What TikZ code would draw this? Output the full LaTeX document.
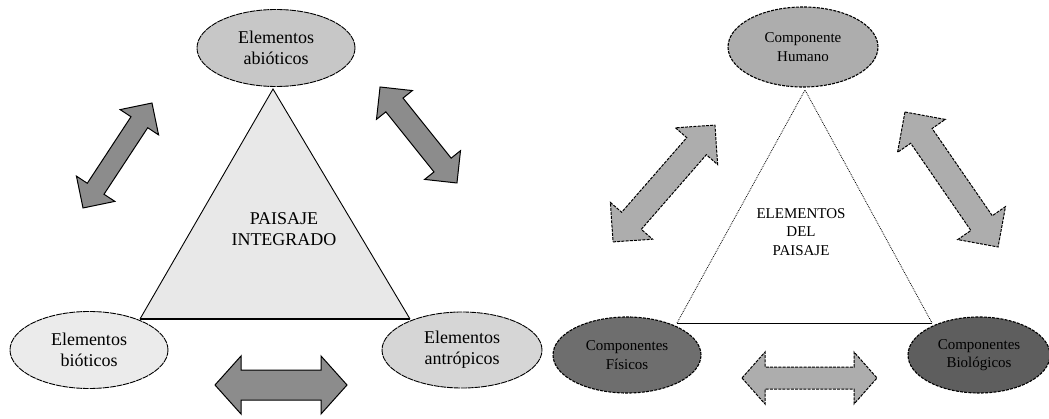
\documentclass[tikz,border=0pt]{standalone}
\usepackage{fontspec}
\setmainfont{Liberation Serif}
\usetikzlibrary{shapes.geometric}

% Block double arrow: centre x, centre y, angle, half length,
% half shaft width, half head width, head length, style
\newcommand\blockarrow[8]{%
  \begin{scope}[shift={(#1,#2)},rotate=#3]
    \draw[#8] (-#4,0) -- (-#4+#7,#6) -- (-#4+#7,#5) -- (#4-#7,#5)
      -- (#4-#7,#6) -- (#4,0) -- (#4-#7,-#6) -- (#4-#7,-#5)
      -- (-#4+#7,-#5) -- (-#4+#7,-#6) -- cycle;
  \end{scope}}

\begin{document}
\begin{tikzpicture}[x=1pt,y=-1pt,
  lbl/.style={font=\fontsize{18}{21}\selectfont, align=center},
  rlbl/.style={font=\fontsize{15}{18.5}\selectfont, align=center},
  ellL/.style={ellipse, draw, line width=0.9pt, dash pattern=on 6pt off 0.8pt,
    inner sep=0pt, lbl},
  ellR/.style={ellipse, draw, line width=1.1pt, dash pattern=on 3pt off 1.2pt,
    inner sep=0pt, rlbl},
  arrL/.style={draw, line width=1pt, fill=black!45, line join=miter},
  arrR/.style={draw, line width=1pt, dash pattern=on 3pt off 1.2pt,
    fill=black!32, line join=miter},
]
\useasboundingbox[fill=white] (0,0) rectangle (1049,419);

% ---------- Paisaje integrado ----------
\coordinate (lA) at (273,89);
\coordinate (lB) at (140,319);
\coordinate (lC) at (410,319);
\fill[black!9] (lA) -- (lB) -- (lC) -- cycle;
\draw[line width=0.9pt] (lB) -- (lA) -- (lC);
\draw[line width=1.6pt] (lB) -- (lC);
\node[lbl] (integ) at (284,229) {PAISAJE\\INTEGRADO};

\node[ellL, fill=black!22, minimum width=158pt, minimum height=77pt]
  (abio) at (276,48) {Elementos\\abióticos};
\node[ellL, fill=black!8, minimum width=158pt, minimum height=77pt]
  (bio) at (89,350) {Elementos\\bióticos};
\node[ellL, fill=black!16, minimum width=160pt, minimum height=76pt]
  (antro) at (462,350) {Elementos\\antrópicos};

\blockarrow{117.5}{155.5}{56.7}{62.8}{10}{23}{23}{arrL}
\blockarrow{418.5}{135}{-51.3}{61.5}{11}{23}{23}{arrL}
\blockarrow{281}{385}{0}{66}{15}{29}{26}{arrL}

% ---------- Elementos del paisaje ----------
\coordinate (rA) at (805,90);
\coordinate (rB) at (677,323);
\coordinate (rC) at (932,323);
\draw[line width=0.8pt, densely dotted] (rB) -- (rA) -- (rC);
\draw[line width=0.9pt] (rB) -- (rC);
\node[rlbl] (elem) at (801,232) {ELEMENTOS\\DEL\\PAISAJE};

\node[ellR, fill=black!32, minimum width=150pt, minimum height=80pt]
  (hum) at (803,47) {Componente\\Humano};
\node[ellR, fill=black!57, minimum width=148pt, minimum height=76pt]
  (fis) at (627,355) {Componentes\\Físicos};
\node[ellR, fill=black!63, minimum width=142pt, minimum height=76pt]
  (biol) at (979,355) {Componentes\\Biológicos};

\blockarrow{664}{183.5}{48.9}{77.5}{13}{28}{28}{arrR}
\blockarrow{951.5}{179.5}{-55.4}{82}{13}{29}{29}{arrR}
\blockarrow{809.5}{378}{0}{67.5}{11}{26}{23}{arrR}
\end{tikzpicture}
\end{document}
